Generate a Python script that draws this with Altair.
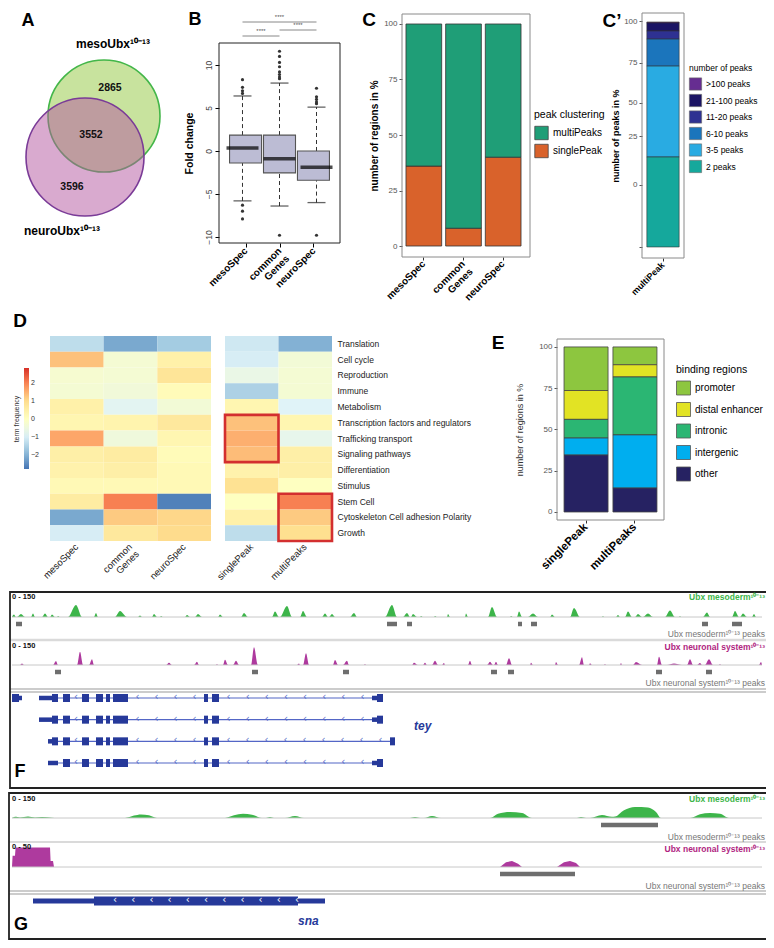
import json
import altair as alt
import pandas as pd

FONT = "Liberation Sans"

# ============================ DATA ============================
# Panel A - Venn diagram of bound regions
venn_sets = ["mesoUbx¹⁰⁻¹³", "neuroUbx¹⁰⁻¹³"]
venn_counts = [2865, 3552, 3596]          # meso only, shared, neuro only

# Panel B - fold change box plots
b_groups = ["mesoSpec", "common Genes", "neuroSpec"]
b_q1 = [-1.4, -2.55, -3.4]
b_median = [0.35, -0.9, -1.9]
b_q3 = [1.85, 1.85, 0.0]
b_lo = [-5.8, -6.4, -6.0]
b_hi = [6.4, 7.9, 5.1]
b_outliers = [[6.7, 7.0, 7.4, 8.3, -6.3, -7.0, -7.9],
              [8.4, 8.6, 8.9, 9.2, 9.8, 10.3, 11.0, 11.6, -9.8],
              [5.5, 5.7, 6.0, 6.3, 7.3, -9.8]]
b_tests = [("mesoSpec", "neuroSpec", "****"),
           ("mesoSpec", "common Genes", "****"),
           ("common Genes", "neuroSpec", "****")]

# Panel C - peak clustering
c_groups = ["mesoSpec", "common Genes", "neuroSpec"]
c_classes = ["multiPeaks", "singlePeak"]
c_multi = [64, 92, 60]
c_single = [36, 8, 40]
c_colors = ["#1f9e77", "#d9622b"]

# Panel C' - number of peaks
cp_group = "multiPeak"
cp_classes = [">100 peaks", "21-100 peaks", "11-20 peaks", "6-10 peaks", "3-5 peaks", "2 peaks"]
cp_values = [0.4, 3.6, 3.6, 12.0, 40.4, 40.0]
cp_colors = ["#662d91", "#1b1464", "#2e3192", "#1b75bc", "#29abe2", "#15a89c"]
cp_tick_values = [0, 27.6, 49.3, 64.0, 81.8, 100.4]
cp_tick_labels = ["", "0", "25", "50", "75", "100"]

# Panel D - GO term heatmap
d_rows = ["Translation", "Cell cycle", "Reproduction", "Immune", "Metabolism",
          "Transcription factors and regulators", "Trafficking transport",
          "Signaling pathways", "Differentiation", "Stimulus", "Stem Cell",
          "Cytoskeleton Cell adhesion Polarity", "Growth"]
d_cols_a = ["mesoSpec", "common Genes", "neuroSpec"]
d_cols_b = ["singlePeak", "multiPeaks"]
d_values = [
    [-1.3, -2.1, -1.6, -1.1, -2.0],
    [1.3, -0.3, 0.45, -1.0, -0.35],
    [-0.25, -0.3, 0.8, -0.6, -0.3],
    [-0.3, -0.4, 0.15, -1.5, -0.3],
    [0.45, -0.8, -0.35, 0.3, -0.9],
    [0.3, 0.35, 0.7, 1.3, 0.3],
    [1.6, -0.45, 0.3, 1.5, -0.7],
    [0.5, 0.6, 0.15, 1.35, 0.5],
    [0.4, 0.5, 0.2, 0.4, 0.5],
    [0.2, 0.2, 0.2, 0.9, 0.0],
    [0.6, 2.0, -2.6, 0.0, 2.0],
    [-2.1, 1.2, 1.05, 0.45, 1.2],
    [-1.0, 0.7, 1.0, -1.3, 0.95],
]
d_boxes = [("singlePeak", "Transcription factors and regulators", "Signaling pathways"),
           ("multiPeaks", "Stem Cell", "Growth")]
d_palette = ["#4575b4", "#91bfdb", "#e0f3f8", "#ffffbf", "#fee090", "#fc8d59", "#d73027"]
d_range = (-2.75, 2.8)

# Panel E - binding regions
e_groups = ["singlePeak", "multiPeaks"]
e_classes = ["promoter", "distal enhancer", "intronic", "intergenic", "other"]
e_single = [26.4, 17.5, 11.3, 10.3, 34.5]
e_multi = [10.8, 7.4, 35.1, 32.2, 14.5]
e_colors = ["#8dc63f", "#e2e324", "#2bb673", "#00aeef", "#262262"]

# Panel F - tey locus (position in 100 bp units, signal 0-150)
f_meso_peaks = [(0, 2, 4, 19), (5, 9, 13, 22), (19, 21, 23, 26), (30, 33, 36, 26), (38, 40, 43, 19),
                (45, 46, 48, 8), (56, 64, 70, 90), (82, 84, 86, 30), (103, 108, 115, 45),
                (126, 128, 130, 11), (140, 142, 145, 22), (148, 149, 151, 8), (173, 175, 178, 15),
                (183, 186, 190, 22), (206, 208, 211, 19), (229, 232, 236, 30), (260, 263, 267, 41),
                (268, 275, 280, 82), (288, 291, 295, 45), (310, 313, 316, 26), (317, 320, 323, 22),
                (338, 342, 345, 30), (373, 380, 385, 90), (391, 395, 398, 30), (399, 401, 405, 22),
                (408, 409, 411, 8), (422, 423, 425, 8), (435, 436, 438, 22), (453, 454, 456, 26),
                (476, 480, 485, 75), (498, 499, 501, 8), (505, 507, 510, 41), (516, 521, 526, 26),
                (538, 540, 543, 19), (558, 562, 568, 68), (590, 591, 592, 8), (604, 606, 608, 15),
                (613, 616, 620, 41), (623, 626, 630, 22), (631, 636, 641, 26), (653, 658, 663, 49),
                (667, 668, 669, 8), (691, 695, 698, 34), (720, 723, 727, 45), (728, 731, 735, 26),
                (740, 742, 744, 22)]
f_neuro_peaks = [(8, 10, 12, 12), (41, 44, 46, 30), (65, 68, 71, 100), (77, 80, 82, 43),
                 (154, 157, 160, 17), (182, 185, 187, 25), (204, 205, 206, 8), (211, 213, 216, 40),
                 (221, 224, 227, 32), (239, 242, 246, 133), (285, 287, 288, 12), (291, 294, 297, 88),
                 (321, 323, 326, 37), (331, 335, 337, 32), (352, 353, 354, 8), (400, 402, 406, 17),
                 (411, 413, 415, 17), (420, 423, 426, 32), (430, 432, 433, 15), (456, 458, 460, 32),
                 (475, 478, 481, 25), (482, 484, 486, 25), (494, 497, 500, 50), (518, 519, 521, 17),
                 (543, 544, 546, 22), (567, 570, 572, 58), (577, 578, 580, 14), (592, 593, 594, 8),
                 (608, 609, 610, 15), (621, 624, 630, 22), (645, 647, 650, 62), (655, 662, 670, 12),
                 (675, 678, 681, 43), (685, 688, 690, 15), (693, 697, 701, 43), (707, 708, 709, 8),
                 (747, 749, 750, 22)]
f_meso_beds = [(4, 10), (375, 385), (395, 400), (506, 510), (519, 525), (690, 696), (720, 730)]
f_neuro_beds = [(43, 49), (240, 246), (331, 337), (479, 485), (496, 502), (644, 650), (694, 700)]
tey_transcripts = ["tey-RA", "tey-RB", "tey-RC", "tey-RD"]
tey_core_cds = [(51, 58), (70, 77), (84, 91), (94, 98), (101, 116), (192, 196), (200, 207)]
tey_models = {
    "tey-RA": {"line": (27, 371), "utr": [(27, 40), (360, 365)], "cds": [(40, 46), (365, 371)]},
    "tey-RB": {"line": (27, 371), "utr": [(27, 40), (360, 365)], "cds": [(40, 46), (365, 371)]},
    "tey-RC": {"line": (36, 383), "utr": [(36, 40)], "cds": [(40, 46), (378, 383)]},
    "tey-RD": {"line": (36, 371), "utr": [(36, 46), (360, 365)], "cds": [(365, 371)]},
}
tey_neighbour = {"utr": [(7, 10)], "cds": [(0, 7)]}

# Panel G - sna locus
g_meso_profile = [(0, 0), (3, 10), (8, 4), (16, 12), (23, 5), (30, 8), (40, 3), (45, 0),
                  (113, 0), (122, 20), (129, 30), (137, 22), (145, 0),
                  (213, 0), (222, 22), (231, 35), (240, 28), (250, 0),
                  (254, 0), (258, 8), (262, 0), (273, 0), (283, 17), (292, 0),
                  (398, 0), (403, 8), (408, 0), (412, 0), (420, 17), (429, 0),
                  (478, 0), (486, 35), (498, 50), (510, 42), (520, 0),
                  (565, 0), (569, 8), (574, 0), (578, 0), (590, 25), (600, 10), (603, 12),
                  (612, 65), (623, 92), (636, 88), (644, 50), (649, 0),
                  (678, 0), (688, 32), (698, 42), (708, 35), (717, 0), (750, 0)]
g_neuro_profile = [(0, 0), (0.6, 28), (3, 28), (3.6, 49), (38, 49), (38.6, 15), (41, 15), (42, 0),
                   (488, 0), (494, 12), (500, 15), (506, 8), (510, 0),
                   (545, 0), (552, 12), (558, 15), (564, 10), (568, 0), (750, 0)]
g_meso_beds = [(589, 646)]
g_neuro_beds = [(488, 563)]
sna_model = {"utr": [(21, 313)], "cds": [(82, 286)]}

# ============================ LAYOUT ============================
W, H = 758, 932


def X(v):
    return v - 8


def Y(v):
    return v - 8


layers = []


def px(field):
    return alt.X(field, scale=None, axis=None)


def py(field):
    return alt.Y(field, scale=None, axis=None)


def text_layer(rows, align="center", weight="normal", style="normal"):
    df = pd.DataFrame(rows, columns=["text", "x", "y", "size", "color"])
    df["x"] = df["x"] - 8
    df["y"] = df["y"] - 8
    return alt.Chart(df).mark_text(align=align, baseline="middle", fontWeight=weight,
                                   fontStyle=style, font=FONT).encode(
        x=px("x:Q"), y=py("y:Q"), text="text:N",
        size=alt.Size("size:Q", scale=None, legend=None),
        color=alt.Color("color:N", scale=None, legend=None))


# ---------------- Panel A ----------------
venn_geom = {"meso": (104, 116, 56), "neuro": (85, 157, 59)}
for key, fill, stroke, fop in [("meso", "#c8e39e", "#43b649", 1.0),
                               ("neuro", "#b4569f", "#7a3b97", 0.5)]:
    cxp, cyp, r = venn_geom[key]
    df = pd.DataFrame({"set": [key], "x": [X(cxp)], "y": [Y(cyp)]})
    layers.append(alt.Chart(df).mark_point(
        shape="circle", filled=True, size=(2 * r) ** 2, fill=fill, fillOpacity=fop,
        stroke=stroke, strokeWidth=1.6, strokeOpacity=1.0, opacity=1.0).encode(
        x=px("x:Q"), y=py("y:Q")))

# ---------------- Panel B ----------------
bxs = alt.Scale(domain=[-0.635, 2.635], range=[X(219), X(340)], nice=False, zero=False)
bys = alt.Scale(domain=[-10.70, 12.56], range=[Y(243), Y(43)], nice=False, zero=False)
b_df = pd.DataFrame({"i": list(range(len(b_groups))), "q1": b_q1, "med": b_median,
                     "q3": b_q3, "lo": b_lo, "hi": b_hi})
b_labels = json.dumps([g.split(" ") if " " in g else g for g in b_groups])
bx_axis = alt.Axis(orient="bottom", offset=-(H - Y(243)), values=list(range(len(b_groups))),
                   labelExpr=f"{b_labels}[datum.value]", labelAngle=315, labelAlign="right",
                   labelBaseline="middle", labelFontSize=10, labelFontWeight="bold",
                   labelColor="black", labelLineHeight=11, tickColor="black", tickSize=4,
                   domain=False, grid=False, title=None, labelPadding=2, labelOverlap=False)
by_axis = alt.Axis(orient="left", offset=-X(219), values=[-10, -5, 0, 5, 10], labelAngle=270,
                   labelAlign="center", labelBaseline="bottom", labelFontSize=8.5,
                   labelColor="#444", tickSize=4, tickColor="black", domain=False, grid=False,
                   title="Fold change", titleFontSize=10.5, titleFontWeight="bold",
                   titleColor="black", titlePadding=10, labelOverlap=False)
layers.append(alt.Chart(b_df).mark_rule(strokeDash=[4, 3], color="#333", strokeWidth=1).encode(
    x=alt.X("i:Q", scale=bxs, axis=None), y=alt.Y("lo:Q", scale=bys, axis=None), y2="q1:Q"))
layers.append(alt.Chart(b_df).mark_rule(strokeDash=[4, 3], color="#333", strokeWidth=1).encode(
    x=alt.X("i:Q", scale=bxs, axis=None), y=alt.Y("q3:Q", scale=bys, axis=None), y2="hi:Q"))
layers.append(alt.Chart(b_df).mark_bar(size=32, fill="#bcbcd4", stroke="#555555",
                                       strokeWidth=1.1).encode(
    x=alt.X("i:Q", scale=bxs, axis=bx_axis), y=alt.Y("q1:Q", scale=bys, axis=by_axis), y2="q3:Q"))
caps = pd.DataFrame([(i, v) for i in range(len(b_groups)) for v in (b_lo[i], b_hi[i])],
                    columns=["i", "v"])
layers.append(alt.Chart(caps).mark_tick(orient="horizontal", size=18, thickness=1.3,
                                        color="#222").encode(
    x=alt.X("i:Q", scale=bxs, axis=None), y=alt.Y("v:Q", scale=bys, axis=None)))
layers.append(alt.Chart(b_df).mark_tick(orient="horizontal", size=32, thickness=3.5,
                                        color="black").encode(
    x=alt.X("i:Q", scale=bxs, axis=None), y=alt.Y("med:Q", scale=bys, axis=None)))
outl = pd.DataFrame([(i, v) for i, vs in enumerate(b_outliers) for v in vs], columns=["i", "v"])
layers.append(alt.Chart(outl).mark_point(filled=True, size=10, color="#333", opacity=1).encode(
    x=alt.X("i:Q", scale=bxs, axis=None), y=alt.Y("v:Q", scale=bys, axis=None)))
b_test_rows = [22, 36, 30]
tests = pd.DataFrame([(b_groups.index(a), b_groups.index(b), Y(yy), s)
                      for (a, b, s), yy in zip(b_tests, b_test_rows)],
                     columns=["i1", "i2", "yy", "stars"])
tests["mid"] = (tests["i1"] + tests["i2"]) / 2
tests["ys"] = tests["yy"] - 5
layers.append(alt.Chart(tests).mark_rule(color="#888", strokeWidth=1).encode(
    x=alt.X("i1:Q", scale=bxs, axis=None), x2="i2:Q", y=py("yy:Q")))
layers.append(alt.Chart(tests).mark_text(fontSize=6, color="#555", font=FONT).encode(
    x=alt.X("mid:Q", scale=bxs, axis=None), y=py("ys:Q"), text="stars:N"))

# ---------------- Panel C ----------------
c_rows = []
for g, m, s in zip(c_groups, c_multi, c_single):
    c_rows.append((g, "singlePeak", s, 0))
    c_rows.append((g, "multiPeaks", m, 1))
c_df = pd.DataFrame(c_rows, columns=["group", "cls", "value", "ord"])
cxs = alt.Scale(domain=c_groups, range=[X(404), X(523)], paddingInner=0.1, paddingOuter=0.05)
cys = alt.Scale(domain=[-4.95, 104.5], range=[Y(257), Y(14)], nice=False, zero=False)
layers.append(alt.Chart(c_df).mark_bar(stroke="#333", strokeWidth=0.8).encode(
    x=alt.X("group:N", scale=cxs, axis=alt.Axis(
        orient="bottom", offset=-(H - Y(257)), labelAngle=315, labelAlign="right",
        labelBaseline="middle", labelLineHeight=11,
        labelExpr="datum.value == 'common Genes' ? ['common', 'Genes'] : datum.value",
        labelFontSize=10, labelFontWeight="bold", labelColor="black", tickSize=3,
        tickColor="#333", domain=False, grid=False, title=None, labelPadding=2,
        labelOverlap=False)),
    y=alt.Y("value:Q", stack="zero", scale=cys, axis=alt.Axis(
        orient="left", offset=-X(402), values=[0, 25, 50, 75, 100], labelFontSize=8,
        labelColor="#555", tickColor="#555", tickSize=3, domain=False, grid=False,
        title="number of regions in %", titleFontSize=10, titleFontWeight="bold",
        titleColor="black", titlePadding=4)),
    color=alt.Color("cls:N", scale=alt.Scale(domain=c_classes, range=c_colors),
                    legend=alt.Legend(title="peak clustering", orient="none", legendX=X(534),
                                      legendY=Y(110), symbolType="square", symbolSize=180,
                                      symbolStrokeColor="#444", symbolStrokeWidth=0.8,
                                      labelFontSize=10, titleFontSize=10.5,
                                      titleFontWeight="normal", rowPadding=1, padding=0)),
    order=alt.Order("ord:Q")))

# ---------------- Panel C' ----------------
cp_df = pd.DataFrame({"group": [cp_group] * len(cp_classes), "cls": cp_classes,
                      "value": cp_values, "ord": list(range(len(cp_classes)))[::-1]})
cpxs = alt.Scale(domain=[cp_group], range=[X(642), X(684)], paddingInner=0, paddingOuter=0.15)
cpys = alt.Scale(domain=[-4.9, 104.0], range=[Y(258), Y(13)], nice=False, zero=False)
cp_expr = f"{json.dumps(cp_tick_labels)}[indexof({json.dumps(cp_tick_values)}, datum.value)]"
layers.append(alt.Chart(cp_df).mark_bar(stroke="#333", strokeWidth=0.6).encode(
    x=alt.X("group:N", scale=cpxs, axis=alt.Axis(
        orient="bottom", offset=-(H - Y(258)), labelAngle=315, labelAlign="right",
        labelBaseline="middle", labelFontSize=9, labelFontWeight="bold", labelColor="black",
        tickSize=3, tickColor="#333", domain=False, grid=False, title=None, labelPadding=2)),
    y=alt.Y("value:Q", stack="zero", scale=cpys, axis=alt.Axis(
        orient="left", offset=-X(642), values=cp_tick_values, labelExpr=cp_expr,
        labelFontSize=8, labelColor="#555", tickColor="#555", tickSize=3, domain=False,
        grid=False, title="number of peaks in %", titleFontSize=9, titleFontWeight="bold",
        titleColor="black", titlePadding=3, labelOverlap=False)),
    color=alt.Color("cls:N", scale=alt.Scale(domain=cp_classes, range=cp_colors),
                    legend=alt.Legend(title="number of peaks", orient="none", legendX=X(689),
                                      legendY=Y(64), symbolType="square", symbolSize=150,
                                      symbolStrokeColor="#666", symbolStrokeWidth=0.6,
                                      labelFontSize=8.5, titleFontSize=8.5,
                                      titleFontWeight="normal", rowPadding=1.5, padding=0)),
    order=alt.Order("ord:Q")))

# ---------------- Panel D ----------------
d_stops = [d_range[0] + k * (d_range[1] - d_range[0]) / (len(d_palette) - 1)
           for k in range(len(d_palette))]
dcolor = alt.Scale(domain=d_stops, range=d_palette, interpolate="rgb")
all_cols = d_cols_a + d_cols_b
d_long = pd.DataFrame([(r, c, d_values[i][j]) for i, r in enumerate(d_rows)
                       for j, c in enumerate(all_cols)], columns=["row", "col", "value"])
dys = alt.Scale(domain=d_rows, range=[Y(336), Y(541)], paddingInner=0, paddingOuter=0)
dxa = alt.Scale(domain=d_cols_a, range=[X(50), X(211)], paddingInner=0, paddingOuter=0)
dxb = alt.Scale(domain=d_cols_b, range=[X(225), X(332)], paddingInner=0, paddingOuter=0)


def d_xaxis():
    return alt.Axis(orient="bottom", offset=-(H - Y(541)), labelAngle=315, labelAlign="right",
                    labelBaseline="middle", labelFontSize=9.5, labelColor="#222",
                    labelLineHeight=10,
                    labelExpr="datum.value == 'common Genes' ? ['common', 'Genes'] : datum.value",
                    ticks=False, domain=False, grid=False, labelPadding=4, title=None,
                    labelOverlap=False)


layers.append(alt.Chart(d_long[d_long["col"].isin(d_cols_a)]).mark_rect().encode(
    x=alt.X("col:N", scale=dxa, axis=d_xaxis()),
    y=alt.Y("row:N", scale=dys, axis=None),
    color=alt.Color("value:Q", scale=dcolor, legend=alt.Legend(
        title="term frequency", orient="none", legendX=X(13), legendY=Y(368),
        direction="vertical", gradientLength=101, gradientThickness=5,
        values=[-2, -1, 0, 1, 2], labelFontSize=7, titleFontSize=7,
        titleFontWeight="normal", titleOrient="left", labelColor="#333",
        titleColor="#333", padding=0, gradientStrokeWidth=0, titlePadding=3))))
layers.append(alt.Chart(d_long[d_long["col"].isin(d_cols_b)]).mark_rect().encode(
    x=alt.X("col:N", scale=dxb, axis=d_xaxis()),
    y=alt.Y("row:N", scale=dys, axis=alt.Axis(
        orient="right", offset=-(W - X(332)), ticks=False, domain=False, grid=False,
        labelFontSize=8.5, labelPadding=5, labelColor="#222", title=None, labelLimit=300,
        labelOverlap=False)),
    color=alt.Color("value:Q", scale=dcolor, legend=None)))
box_df = pd.DataFrame([(c, d_rows.index(a), d_rows.index(b) + 1) for c, a, b in d_boxes],
                      columns=["col", "r0", "r1"])
dyq = alt.Scale(domain=[0, len(d_rows)], range=[Y(336), Y(541)], nice=False, zero=False)
layers.append(alt.Chart(box_df).mark_rect(fill="white", fillOpacity=0, stroke="#d32f2f",
                                          strokeWidth=2.6).encode(
    x=alt.X("col:N", scale=dxb, axis=None), y=alt.Y("r0:Q", scale=dyq, axis=None), y2="r1:Q"))

# ---------------- Panel E ----------------
e_rows = []
for g, vals in zip(e_groups, [e_single, e_multi]):
    for k, (cl, v) in enumerate(zip(e_classes, vals)):
        e_rows.append((g, cl, v, len(e_classes) - k))
e_df = pd.DataFrame(e_rows, columns=["group", "cls", "value", "ord"])
exs = alt.Scale(domain=e_groups, range=[X(561.6), X(659.4)], paddingInner=0.1, paddingOuter=0.05)
eys = alt.Scale(domain=[-4.85, 104.8], range=[Y(520), Y(339)], nice=False, zero=False)
layers.append(alt.Chart(e_df).mark_bar(stroke="#444", strokeWidth=0.8).encode(
    x=alt.X("group:N", scale=exs, axis=alt.Axis(
        orient="bottom", offset=-(H - Y(520)), labelAngle=315, labelAlign="right",
        labelBaseline="middle", labelFontSize=11.5, labelFontWeight="bold", labelColor="black",
        tickSize=3, tickColor="#333", domain=False, grid=False, title=None, labelPadding=2,
        labelOverlap=False)),
    y=alt.Y("value:Q", stack="zero", scale=eys, axis=alt.Axis(
        orient="left", offset=-X(557), values=[0, 25, 50, 75, 100], labelFontSize=8,
        labelColor="#555", tickColor="#555", tickSize=3, domain=False, grid=False,
        title="number of regions in %", titleFontSize=9, titleFontWeight="normal",
        titleColor="#333", titlePadding=14)),
    color=alt.Color("cls:N", scale=alt.Scale(domain=e_classes, range=e_colors),
                    legend=alt.Legend(title="binding regions", orient="none", legendX=X(676),
                                      legendY=Y(365), symbolType="square", symbolSize=196,
                                      symbolStrokeColor="#555", symbolStrokeWidth=0.8,
                                      labelFontSize=10, titleFontSize=10.5,
                                      titleFontWeight="normal", rowPadding=2.5, padding=0)),
    order=alt.Order("ord:Q")))

# ---------------- Panels F & G: genome tracks ----------------
gx = alt.Scale(domain=[0, 750], range=[X(12), X(762)], nice=False, zero=False)


def track_scale(base, top, maxv):
    return alt.Scale(domain=[0, maxv], range=[Y(base), Y(top)], nice=False, zero=False)


def profile_from_peaks(peaks, lo=0, hi=750):
    pts = [(lo, 0)]
    for s, m, e, h in sorted(peaks):
        for p in [(s, 0), (m, h), (e, 0)]:
            if p[0] > pts[-1][0]:
                pts.append(p)
            elif p[0] == pts[-1][0] and p[1] > pts[-1][1]:
                pts[-1] = p
    if pts[-1][0] < hi:
        pts.append((hi, 0))
    return pd.DataFrame(pts, columns=["pos", "signal"])


GREEN, MAGENTA = "#3db54a", "#ae3a9e"
for df, ysc, col, interp in [
        (profile_from_peaks(f_meso_peaks), track_scale(617, 597, 150), GREEN, "monotone"),
        (profile_from_peaks(f_neuro_peaks), track_scale(665, 645, 150), MAGENTA, "monotone"),
        (pd.DataFrame(g_meso_profile, columns=["pos", "signal"]), track_scale(818, 800, 150), GREEN, "monotone"),
        (pd.DataFrame(g_neuro_profile, columns=["pos", "signal"]), track_scale(867, 847, 50), MAGENTA, "linear")]:
    layers.append(alt.Chart(df).mark_area(interpolate=interp, color=col, opacity=1).encode(
        x=alt.X("pos:Q", scale=gx, axis=None), y=alt.Y("signal:Q", scale=ysc, axis=None)))

# peak calls
for beds, rows_px, w in [((f_meso_beds, f_neuro_beds), (624, 672), 4.5),
                         ((g_meso_beds, g_neuro_beds), (825, 874), 4.5)]:
    bdf = pd.DataFrame([("meso", s, e) for s, e in beds[0]] + [("neuro", s, e) for s, e in beds[1]],
                       columns=["track", "s", "e"])
    layers.append(alt.Chart(bdf).mark_rule(strokeWidth=w, color="#6e6e6e").encode(
        x=alt.X("s:Q", scale=gx, axis=None), x2="e:Q",
        y=alt.Y("track:N", scale=alt.Scale(type="point", domain=["meso", "neuro"],
                                           range=[Y(rows_px[0]), Y(rows_px[1])], padding=0),
                axis=None)))


def chevron_positions(blocks, line):
    segs = sorted([b for b in blocks if b[0] >= line[0] and b[1] <= line[1]])
    out = []
    for (s0, e0), (s1, e1) in zip(segs[:-1], segs[1:]):
        gap = s1 - e0
        if gap >= 10:
            n = max(1, round(gap / 19))
            out += [e0 + (k + 0.5) * gap / n for k in range(n)]
    return out


gene_lines, gene_utr, gene_cds, gene_chev = [], [], [], []
for t in tey_transcripts:
    m = tey_models[t]
    gene_lines.append((t, m["line"][0], m["line"][1]))
    cds = tey_core_cds + m["cds"]
    gene_utr += [(t, s, e) for s, e in m["utr"]]
    gene_cds += [(t, s, e) for s, e in cds]
    gene_chev += [(t, p) for p in chevron_positions(cds + m["utr"], m["line"])]
gene_utr += [("tey-RA", s, e) for s, e in tey_neighbour["utr"]]
gene_cds += [("tey-RA", s, e) for s, e in tey_neighbour["cds"]]

GENE = "#26399a"
INTRON = "#5366c6"
tey_y = alt.Scale(type="point", domain=tey_transcripts, range=[Y(698), Y(763)], padding=0)
sna_y = alt.Scale(type="point", domain=["sna"], range=[Y(900), Y(902)], padding=0.5)


def gene_layers(lines, utr, cds, chev, yscale, chev_color, utr_w, cds_w):
    out = []
    if lines:
        out.append(alt.Chart(pd.DataFrame(lines, columns=["t", "s", "e"])).mark_rule(
            strokeWidth=1.2, color=INTRON).encode(
            x=alt.X("s:Q", scale=gx, axis=None), x2="e:Q",
            y=alt.Y("t:N", scale=yscale, axis=None)))
    out.append(alt.Chart(pd.DataFrame(utr, columns=["t", "s", "e"])).mark_rule(
        strokeWidth=utr_w, color=GENE).encode(
        x=alt.X("s:Q", scale=gx, axis=None), x2="e:Q", y=alt.Y("t:N", scale=yscale, axis=None)))
    out.append(alt.Chart(pd.DataFrame(cds, columns=["t", "s", "e"])).mark_rule(
        strokeWidth=cds_w, color=GENE).encode(
        x=alt.X("s:Q", scale=gx, axis=None), x2="e:Q", y=alt.Y("t:N", scale=yscale, axis=None)))
    out.append(alt.Chart(pd.DataFrame(chev, columns=["t", "p"])).mark_text(
        text="‹", fontSize=10, color=chev_color, baseline="middle", dy=-1,
        font="DejaVu Sans").encode(
        x=alt.X("p:Q", scale=gx, axis=None), y=alt.Y("t:N", scale=yscale, axis=None)))
    return out


layers += gene_layers(gene_lines, gene_utr, gene_cds, gene_chev, tey_y, INTRON, 4.5, 8)
sna_cds = sna_model["cds"][0]
sna_chev = [("sna", sna_cds[0] + 21 + 18.2 * k) for k in range(11)]
layers += gene_layers([], [("sna", s, e) for s, e in sna_model["utr"]],
                      [("sna", s, e) for s, e in sna_model["cds"]], sna_chev, sna_y,
                      "white", 5, 9)

# separators / baselines (page pixels)
seps = [(12, 762, 617, "#c8c8c8", 1), (10, 767, 640, "#dadada", 2.5), (12, 762, 665, "#c8c8c8", 1),
        (10, 767, 689, "#9a9a9a", 1.2), (10, 767, 692, "#9a9a9a", 1.2),
        (12, 762, 818, "#c8c8c8", 1), (9, 767, 842, "#dadada", 2), (12, 762, 867, "#c8c8c8", 1),
        (9, 767, 891, "#9a9a9a", 1.2), (9, 767, 894, "#9a9a9a", 1.2)]
sep_df = pd.DataFrame(seps, columns=["x0", "x1", "y", "c", "w"])
sep_df[["x0", "x1"]] -= 8
sep_df["y"] -= 8
layers.append(alt.Chart(sep_df).mark_rule().encode(
    x=px("x0:Q"), x2="x1:Q", y=py("y:Q"),
    color=alt.Color("c:N", scale=None, legend=None),
    strokeWidth=alt.StrokeWidth("w:Q", scale=None, legend=None)))

# panel frames (page pixels)
frames = [(219, 340, 43, 243, "#222", 1), (402, 530, 14, 257, "#8a8a8a", 1),
          (642, 684, 13, 258, "#8a8a8a", 1), (557, 664, 339, 520, "#8a8a8a", 1),
          (10, 767, 592, 788, "#222", 1.8), (9, 767, 793, 939, "#222", 1.8)]
fr_df = pd.DataFrame(frames, columns=["x0", "x1", "y0", "y1", "c", "w"])
fr_df[["x0", "x1", "y0", "y1"]] -= 8
layers.append(alt.Chart(fr_df).mark_rect(fill="white", fillOpacity=0).encode(
    x=px("x0:Q"), x2="x1:Q", y=py("y0:Q"), y2="y1:Q",
    stroke=alt.Stroke("c:N", scale=None, legend=None),
    strokeWidth=alt.StrokeWidth("w:Q", scale=None, legend=None)))

# ---------------- annotations ----------------
letters = [("A", 28, 21, 18, "black"), ("B", 195, 20, 18, "black"), ("C", 369, 20, 19, "black"),
           ("C’", 612, 21, 19, "black"), ("D", 20, 321, 19, "black"), ("E", 498, 343, 19, "black"),
           ("F", 20, 772, 18, "black"), ("G", 21, 925, 18, "black")]
layers.append(text_layer(letters, align="center", weight="bold"))
venn_text = [(venn_sets[0], 113, 44, 12, "black"), (venn_sets[1], 62, 231, 12, "black"),
             (str(venn_counts[0]), 110, 88, 10.5, "#111"), (str(venn_counts[1]), 91, 135, 10.5, "#111"),
             (str(venn_counts[2]), 72, 187, 10.5, "#111")]
layers.append(text_layer(venn_text, align="center", weight="bold"))
track_left = [("0 - 150", 12, 597, 7.5, "#111"), ("0 - 150", 12, 646, 7.5, "#111"),
              ("0 - 150", 12, 799, 7.5, "#111"), ("0 - 50", 12, 847, 7.5, "#111")]
layers.append(text_layer(track_left, align="left", weight="bold"))
track_names = [("Ubx mesoderm¹⁰⁻¹³", 765, 597, 8.5, GREEN),
               ("Ubx neuronal system¹⁰⁻¹³", 765, 647, 8.5, "#b0247f"),
               ("Ubx mesoderm¹⁰⁻¹³", 765, 799, 8.5, GREEN),
               ("Ubx neuronal system¹⁰⁻¹³", 765, 849, 8.5, "#b0247f")]
layers.append(text_layer(track_names, align="right", weight="bold"))
peak_names = [("Ubx mesoderm¹⁰⁻¹³ peaks", 765, 634, 8.5, "#777"),
              ("Ubx neuronal system¹⁰⁻¹³ peaks", 765, 683, 8.5, "#777"),
              ("Ubx mesoderm¹⁰⁻¹³ peaks", 765, 837, 8.5, "#777"),
              ("Ubx neuronal system¹⁰⁻¹³ peaks", 765, 886, 8.5, "#777")]
layers.append(text_layer(peak_names, align="right"))
gene_names = [("tey", 414, 726, 12, GENE), ("sna", 298, 921, 12, GENE)]
layers.append(text_layer(gene_names, align="left", weight="bold", style="italic"))

chart = alt.layer(*layers).resolve_scale(
    x="independent", y="independent", color="independent", size="independent",
    stroke="independent", strokeWidth="independent"
).properties(
    width=W, height=H, autosize=alt.AutoSizeParams(type="none"), padding=0
).configure(font=FONT).configure_view(stroke=None)

chart.save("out.html", embed_options={"renderer": "svg", "actions": False})
